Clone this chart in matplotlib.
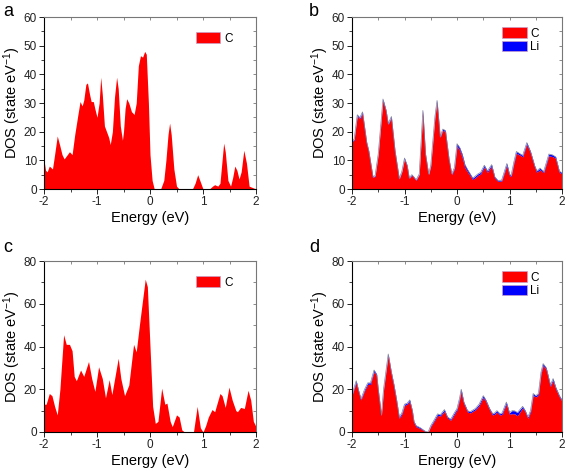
import numpy as np
import matplotlib
matplotlib.use("Agg")
import matplotlib.pyplot as plt
from matplotlib.patches import Patch

plt.rcParams['font.family'] = ['Liberation Sans', 'DejaVu Sans']
plt.rcParams['mathtext.default'] = 'regular'
plt.rcParams['axes.unicode_minus'] = False

# panel a : C only
energy_a = [-2.0, -1.97, -1.94, -1.9, -1.87, -1.84, -1.8, -1.75, -1.7, -1.66,
            -1.62, -1.56, -1.52, -1.47, -1.42, -1.36, -1.32, -1.28, -1.25, -1.21,
            -1.18, -1.14, -1.11, -1.07, -1.04, -1.0, -0.96, -0.93, -0.9, -0.86,
            -0.82, -0.78, -0.75, -0.71, -0.67, -0.63, -0.6, -0.56, -0.52, -0.5,
            -0.47, -0.44, -0.4, -0.35, -0.3, -0.26, -0.22, -0.18, -0.14, -0.1,
            -0.07, -0.03, 0.0, 0.04, 0.08, 0.2, 0.26, 0.3, 0.34, 0.37,
            0.4, 0.45, 0.5, 0.55, 0.8, 0.85, 0.9, 0.95, 1.0, 1.12,
            1.18, 1.22, 1.28, 1.32, 1.36, 1.39, 1.42, 1.47, 1.52, 1.56,
            1.6, 1.64, 1.68, 1.72, 1.77, 1.82, 1.87, 2.0]
dos_a = [10, 6.5, 6, 8, 7.5, 7, 12, 18.5, 15, 12,
         10.5, 12, 13, 12, 19, 26, 30.5, 29, 31, 36.5,
         37, 33, 30.5, 30.5, 28, 25, 30, 39, 33, 22,
         20, 18, 15.5, 20, 32, 39, 35, 22, 17, 20,
         28, 31.5, 30, 27, 26, 30, 43, 46.5, 46, 48,
         47, 30, 12, 3, 0, 0, 3, 10, 19, 23,
         19, 7, 1, 0, 0, 2, 5, 2.5, 0, 0,
         1, 1.5, 1, 2, 10, 16, 13, 3, 1, 4,
         8, 6.5, 3.5, 6, 13.5, 9, 1, 0]

# panel b : C + Li
energy_b = [-2.0, -1.96, -1.9, -1.85, -1.8, -1.72, -1.68, -1.6, -1.56, -1.5,
            -1.41, -1.35, -1.31, -1.25, -1.18, -1.1, -1.05, -1.0, -0.95, -0.91,
            -0.86, -0.82, -0.78, -0.72, -0.65, -0.6, -0.54, -0.5, -0.42, -0.38,
            -0.32, -0.27, -0.22, -0.15, -0.1, -0.05, 0.0, 0.05, 0.1, 0.15,
            0.2, 0.3, 0.4, 0.45, 0.52, 0.58, 0.66, 0.72, 0.78, 0.85,
            0.95, 1.0, 1.03, 1.08, 1.13, 1.2, 1.25, 1.33, 1.4, 1.48,
            1.52, 1.58, 1.65, 1.75, 1.82, 1.88, 1.95, 2.0]
dos_b_c = [16.5, 17, 25.5, 24.5, 26.5, 16, 13, 4, 4.5, 12,
           31, 27, 22.5, 25, 13, 3.5, 6, 10.5, 8, 3.7,
           4.8, 4, 3, 5, 27, 12, 5, 8, 25, 30.5,
           18, 20.5, 20, 10, 5, 7, 15, 13.5, 11, 7.5,
           6, 3.3, 4.8, 5.3, 7.7, 5.8, 8, 3.8, 2.7, 2.8,
           8.2, 4.8, 4.3, 8.7, 12.5, 11.8, 11.2, 15.6, 12.6, 7.7,
           5.8, 6.7, 5.7, 11.6, 11.3, 10.7, 5.8, 5.3]
dos_b_li = [0.3, 0.3, 0.4, 0.4, 0.4, 0.3, 0.3, 0.2, 0.2, 0.3,
            0.4, 0.4, 0.3, 0.3, 0.3, 0.2, 0.2, 0.3, 0.3, 0.2,
            0.2, 0.2, 0.2, 0.2, 0.4, 0.3, 0.2, 0.3, 0.4, 0.4,
            0.3, 0.4, 0.4, 0.3, 0.3, 0.4, 0.8, 1.0, 1.1, 1.0,
            0.8, 0.5, 0.5, 0.5, 0.6, 0.5, 0.5, 0.4, 0.3, 0.3,
            0.7, 0.4, 0.4, 0.5, 0.6, 0.5, 0.5, 0.6, 0.5, 0.4,
            0.5, 0.6, 0.4, 0.6, 0.6, 0.5, 0.4, 0.4]

# panel c : C only
energy_c = [-2.0, -1.96, -1.9, -1.85, -1.8, -1.75, -1.7, -1.63, -1.58, -1.52,
            -1.47, -1.43, -1.39, -1.31, -1.25, -1.16, -1.1, -1.04, -0.97, -0.9,
            -0.84, -0.77, -0.72, -0.6, -0.55, -0.48, -0.4, -0.31, -0.26, -0.2,
            -0.09, -0.05, 0.0, 0.05, 0.1, 0.15, 0.22, 0.28, 0.32, 0.38,
            0.42, 0.5, 0.55, 0.6, 0.65, 0.82, 0.89, 0.95, 1.0, 1.05,
            1.1, 1.17, 1.22, 1.32, 1.36, 1.42, 1.49, 1.55, 1.62, 1.65,
            1.71, 1.78, 1.85, 1.9, 1.95, 2.0]
dos_c = [13, 13, 18, 17, 12, 8, 20, 45.5, 41, 41,
         38, 26, 24, 29, 26, 33, 25, 19, 30.5, 25,
         16, 24.5, 17.5, 34.5, 25, 17, 22, 41, 37.5, 50,
         71.5, 68, 40, 12, 4, 5, 20.5, 13, 13.5, 5,
         2.5, 8, 7, 1, 0, 0, 12, 2, 0, 3,
         7, 10.5, 9.5, 18, 17, 11.5, 21, 15, 10, 9.5,
         11.5, 11, 19.5, 15, 5, 2.5]

# panel d : C + Li
energy_d = [-2.0, -1.92, -1.88, -1.83, -1.76, -1.7, -1.65, -1.58, -1.53, -1.5,
            -1.44, -1.4, -1.31, -1.25, -1.2, -1.15, -1.1, -1.05, -1.0, -0.95,
            -0.9, -0.85, -0.82, -0.78, -0.7, -0.6, -0.55, -0.5, -0.45, -0.37,
            -0.32, -0.24, -0.18, -0.12, -0.05, 0.0, 0.05, 0.08, 0.13, 0.2,
            0.25, 0.35, 0.42, 0.5, 0.55, 0.62, 0.68, 0.72, 0.76, 0.82,
            0.86, 0.94, 1.0, 1.05, 1.1, 1.15, 1.25, 1.3, 1.35, 1.4,
            1.45, 1.5, 1.55, 1.6, 1.64, 1.7, 1.75, 1.78, 1.83, 1.88,
            1.95, 2.0]
dos_d_c = [17, 23.3, 19.5, 15, 19.4, 22.3, 22.3, 28.2, 26.4, 19.5,
           7.5, 19.4, 36, 27.4, 21.4, 14.4, 6.4, 8.4, 12.4, 13,
           14.3, 9.5, 4.5, 2.5, 1.6, 0.2, 0, 2.6, 4.5, 7.8,
           7.4, 9.8, 6.5, 5.5, 8.3, 10.4, 15.2, 19.2, 13.4, 9.4,
           8.9, 10.4, 12.3, 16.2, 14.3, 10.4, 7.9, 8.4, 9.3, 7.9,
           8.3, 13.2, 8.3, 8.6, 8.5, 7.6, 11.3, 9.4, 6.4, 9.3,
           17.2, 16.4, 17.3, 27.2, 31.2, 29.3, 24.4, 21.3, 24.2, 20.3,
           16.4, 14.4]
dos_d_li = [0.5, 0.7, 0.5, 0.5, 0.6, 0.7, 0.7, 0.8, 0.6, 0.5,
            0.5, 0.6, 0.5, 0.6, 0.6, 0.6, 0.6, 0.6, 0.6, 0.5,
            0.7, 0.5, 0.5, 0.5, 0.4, 0.1, 0.0, 0.4, 0.5, 0.7,
            0.6, 0.7, 0.5, 0.5, 0.7, 0.6, 0.8, 0.8, 0.6, 0.6,
            0.6, 0.6, 0.7, 0.8, 0.7, 0.6, 0.6, 0.6, 0.7, 0.6,
            0.7, 0.8, 0.7, 1.4, 1.4, 1.5, 0.7, 0.6, 0.6, 0.7,
            0.8, 0.6, 0.7, 0.8, 0.8, 0.7, 0.6, 0.7, 0.8, 0.7,
            0.6, 0.6]

RED = '#ff0000'
BLUE = '#0000ff'

fig = plt.figure(figsize=(5.67, 4.71), dpi=100)
W, H = 567, 471


def make_ax(left, top, right, bottom):
    return fig.add_axes([left / W, 1 - bottom / H, (right - left) / W, (bottom - top) / H])


def style_ax(ax, ymax, ystep):
    ax.set_xlim(-2, 2)
    ax.set_ylim(0, ymax)
    ax.set_xticks([-2, -1, 0, 1, 2])
    ax.set_xticks(np.arange(-2, 2.01, 0.5), minor=True)
    ax.set_yticks(np.arange(0, ymax + 1, ystep))
    ax.set_yticks(np.arange(0, ymax + 1, ystep / 2), minor=True)
    ax.tick_params(which='major', direction='out', length=3.5, width=0.7,
                   labelsize=8.5, pad=1.5, colors='#222222')
    ax.tick_params(which='minor', direction='out', length=2, width=0.6, colors='#222222')
    for s in ax.spines.values():
        s.set_linewidth(0.8)
    ax.spines['top'].set_color('#777777')
    ax.spines['right'].set_color('#777777')
    # inward ticks on the top and right edges
    top = ax.secondary_xaxis('top')
    top.set_xticks(np.arange(-2, 2.01, 0.5))
    top.tick_params(direction='in', length=2, width=0.6, labeltop=False, colors='#777777')
    top.spines['top'].set_visible(False)
    right = ax.secondary_yaxis('right')
    right.set_yticks(np.arange(0, ymax + 1, ystep / 2))
    right.tick_params(direction='in', length=2, width=0.6, labelright=False, colors='#777777')
    right.spines['right'].set_visible(False)
    ax.set_xlabel('Energy (eV)', fontsize=10.5, labelpad=2)
    ax.set_ylabel('DOS (state eV$^{-1}$)', fontsize=10.5, labelpad=0.5)


def add_legend(ax, labels, colors, y_top):
    handles = [Patch(facecolor=c, edgecolor='#c8a0c8', linewidth=0.5) for c in colors]
    ax.legend(handles, labels, loc='upper left', bbox_to_anchor=(0.715, y_top),
              frameon=False, fontsize=8.5, handlelength=2.1, handleheight=1.0,
              handletextpad=0.3, labelspacing=0.08, borderpad=0, borderaxespad=0)


# a
ax_a = make_ax(44, 17, 256, 189)
ax_a.fill_between(energy_a, 0, dos_a, color=RED, linewidth=0)
style_ax(ax_a, 60, 10)
add_legend(ax_a, ['C'], [RED], 0.91)

# b
ax_b = make_ax(352, 17, 562, 189)
c_b = np.array(dos_b_c)
t_b = c_b + np.array(dos_b_li)
ax_b.fill_between(energy_b, 0, c_b, color=RED, linewidth=0)
ax_b.fill_between(energy_b, c_b, t_b, color=BLUE, linewidth=0)
ax_b.plot(energy_b, t_b, color='#8080a0', lw=0.5)
style_ax(ax_b, 60, 10)
add_legend(ax_b, ['C', 'Li'], [RED, BLUE], 0.94)

# c
ax_c = make_ax(44, 261, 256, 432)
ax_c.fill_between(energy_c, 0, dos_c, color=RED, linewidth=0)
style_ax(ax_c, 80, 20)
add_legend(ax_c, ['C'], [RED], 0.91)

# d
ax_d = make_ax(352, 261, 562, 432)
c_d = np.array(dos_d_c)
t_d = c_d + np.array(dos_d_li)
ax_d.fill_between(energy_d, 0, c_d, color=RED, linewidth=0)
ax_d.fill_between(energy_d, c_d, t_d, color=BLUE, linewidth=0)
ax_d.plot(energy_d, t_d, color='#8080a0', lw=0.5)
style_ax(ax_d, 80, 20)
add_legend(ax_d, ['C', 'Li'], [RED, BLUE], 0.94)

for lbl, x, y in [('a', 3, 3), ('b', 309, 3), ('c', 3, 239), ('d', 309, 239)]:
    fig.text(x / W, 1 - y / H, lbl, fontsize=13, va='top', ha='left')

fig.savefig('out.png', dpi=100)
